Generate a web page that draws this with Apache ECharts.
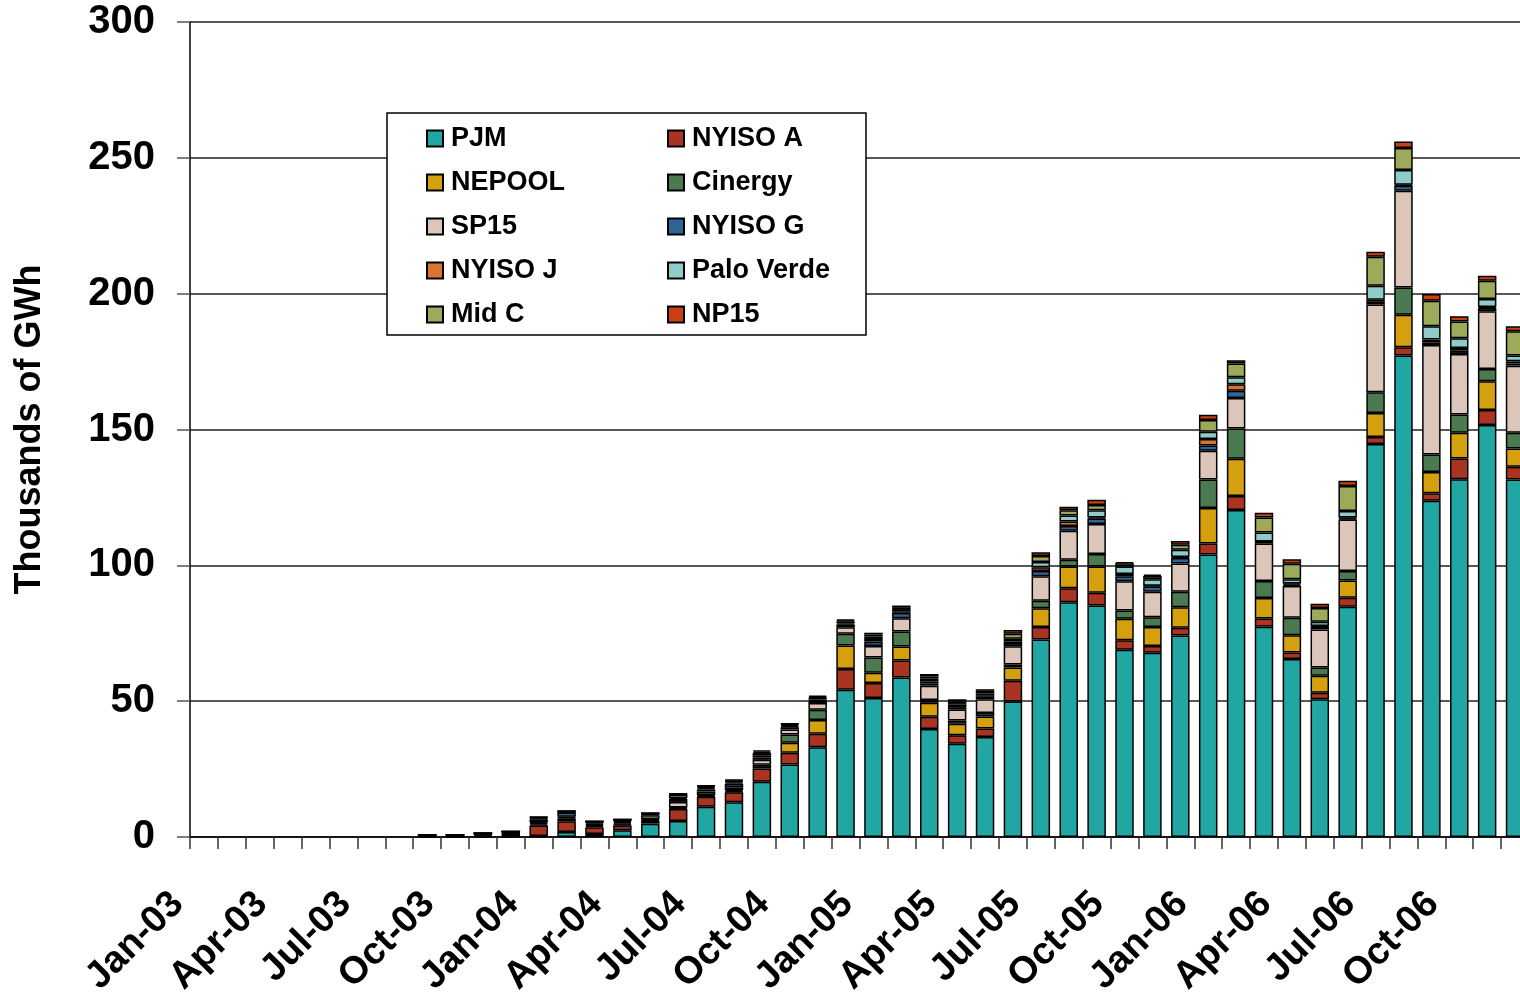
<!DOCTYPE html>
<html>
<head>
    <meta charset="utf-8">
    <title>ECharts</title>
    <script src="https://cdn.jsdelivr.net/npm/echarts@6/dist/echarts.min.js"></script>
</head>
<style>
    html, body {
        margin: 0;
        background: #fff;
    }
    #main {
        width: 1520px;
        height: 996px;
    }
</style>
<body>
    <div id="main"></div>
    <script type="text/javascript">
        var months = ['Jan-03','Feb-03','Mar-03','Apr-03','May-03','Jun-03','Jul-03','Aug-03','Sep-03','Oct-03','Nov-03','Dec-03',
                      'Jan-04','Feb-04','Mar-04','Apr-04','May-04','Jun-04','Jul-04','Aug-04','Sep-04','Oct-04','Nov-04','Dec-04',
                      'Jan-05','Feb-05','Mar-05','Apr-05','May-05','Jun-05','Jul-05','Aug-05','Sep-05','Oct-05','Nov-05','Dec-05',
                      'Jan-06','Feb-06','Mar-06','Apr-06','May-06','Jun-06','Jul-06','Aug-06','Sep-06','Oct-06','Nov-06','Dec-06'];

        // thousands of GWh per month, stacked bottom -> top
        var pjm      = [null,null,null,null,null,null,null,null, 0,0,0.1,0.1, 0.4,1.8,1.1,2.5,4.9,5.9,11.1,12.8,20.3,26.7,33.0,54.2, 51.2,58.7,39.8,34.3,36.8,49.9,72.7,86.4,85.2,68.9,67.8,74.2, 104.0,120.4,77.4,65.5,50.7,84.8,144.7,177.2,123.8,131.7,151.7,131.6];
        var nyisoA   = [null,null,null,null,null,null,null,null, 0.3,0.3,0.5,1.1, 3.8,4.0,2.5,1.7,1.1,4.4,3.7,3.7,4.9,4.3,5.0,7.6, 5.5,6.3,4.5,3.2,3.1,7.6,4.6,5.2,4.7,3.5,2.5,2.8, 4.0,5.1,3.0,2.4,2.4,3.3,2.5,3.1,2.7,7.6,5.5,4.7];
        var nepool   = [null,null,null,null,null,null,null,null, 0.1,0.1,0.2,0.2, 0.5,1.0,0.5,0.4,0.3,0.3,0.3,0.4,0.6,3.7,5.1,8.7, 3.8,5.1,5.1,4.2,4.5,4.9,6.9,8.0,9.7,7.9,7.0,7.6, 13.1,13.7,7.6,6.4,6.3,6.3,8.9,11.9,7.9,9.5,10.6,6.7];
        var cinergy  = [null,null,null,null,null,null,null,null, 0.1,0.1,0.2,0.2, 0.4,0.3,0.4,0.4,0.3,0.3,0.4,0.4,0.8,3.0,3.7,4.3, 5.6,5.5,1.0,1.2,1.2,1.1,2.8,2.5,4.6,3.1,3.6,5.7, 10.5,11.2,6.2,6.4,3.0,3.5,7.6,10.1,6.4,6.7,4.5,5.8];
        var sp15     = [null,null,null,null,null,null,null,null, 0.1,0.1,0.1,0.1, 0.4,0.4,0.4,0.5,1.4,2.0,1.2,1.0,1.8,1.9,2.5,2.4, 4.2,4.9,5.3,4.0,5.1,6.7,9.0,10.6,11.0,10.7,9.4,10.4, 10.6,11.2,13.8,11.7,14.0,19.0,32.3,35.6,40.3,22.3,21.2,24.7];
        var nyisoG   = [null,null,null,null,null,null,null,null, 0.1,0.1,0.2,0.2, 0.9,1.5,0.5,0.5,0.4,1.1,0.8,1.3,0.9,0.8,0.8,1.0, 1.6,2.0,0.8,0.9,0.9,1.2,1.9,1.8,2.0,1.9,1.9,2.0, 1.9,2.7,0.6,0.5,1.0,0.4,1.0,1.8,1.0,1.2,1.2,0.8];
        var nyisoJ   = [null,null,null,null,null,null,null,null, 0.1,0.1,0.1,0.1, 0.4,0.2,0.2,0.2,0.2,0.4,0.5,0.5,0.8,0.4,0.5,0.5, 1.0,0.6,0.8,0.9,0.6,0.6,1.4,1.6,0.4,0.8,0.3,0.4, 2.4,2.4,0.2,0.4,0.3,0.3,0.8,0.4,1.0,1.0,0.4,0.8];
        var paloVerde= [null,null,null,null,null,null,null,null, 0,0,0,0, 0.3,0.2,0.1,0.2,0.1,1.2,0.5,0.4,0.8,0.5,0.6,0.6, 0.9,0.8,1.0,0.6,0.6,1.0,1.9,2.2,2.7,2.8,2.4,2.6, 2.7,2.5,3.3,1.6,1.5,2.4,5.1,5.4,4.9,3.6,2.9,2.1];
        var midC     = [null,null,null,null,null,null,null,null, 0,0,0,0, 0.2,0.1,0.05,0.05,0.05,0.2,0.2,0.3,0.5,0.3,0.4,0.4, 0.7,0.7,0.8,0.7,1.0,1.8,2.2,2.0,1.9,1.2,1.2,1.9, 4.3,5.1,5.5,5.7,5.1,9.2,10.7,8.1,9.4,6.2,6.8,9.0];
        var np15     = [null,null,null,null,null,null,null,null, 0,0,0,0, 0.2,0.1,0.05,0.05,0.05,0.2,0.3,0.3,0.5,0.2,0.4,0.4, 0.7,0.6,0.9,0.7,0.6,1.4,1.4,1.3,1.9,0.3,0.5,1.4, 1.9,1.2,1.8,1.6,1.6,1.9,1.8,2.4,2.5,1.9,1.8,1.8];

        var names  = ['PJM','NYISO A','NEPOOL','Cinergy','SP15','NYISO G','NYISO J','Palo Verde','Mid C','NP15'];
        var values = [pjm, nyisoA, nepool, cinergy, sp15, nyisoG, nyisoJ, paloVerde, midC, np15];
        var colors = ['#22A6A3','#A83421','#D4A00E','#4B7A51','#DCC5B9','#2E6596','#DA7434','#8FCBC9','#9CAA5A','#CC3F14'];

        var FONT = 'Arial, "Liberation Sans", sans-serif';

        var series = [];
        for (var i = 0; i < names.length; i++) {
            series.push({
                name: names[i],
                type: 'bar',
                stack: 'total',
                barWidth: 18.5,
                data: values[i],
                itemStyle: {
                    color: colors[i],
                    borderColor: '#000',
                    borderWidth: 1.5
                }
            });
        }

        function legendCol(items, left) {
            return {
                orient: 'vertical',
                left: left,
                top: 125,
                padding: 0,
                itemWidth: 16,
                itemHeight: 16,
                itemGap: 17,
                icon: 'rect',
                data: items,
                textStyle: {
                    fontFamily: FONT,
                    fontWeight: 'bold',
                    fontSize: 27,
                    color: '#000',
                    padding: [0, 0, 0, 3]
                }
            };
        }

        var option = {
            animation: false,
            backgroundColor: '#fff',
            color: colors,
            grid: {
                left: 190,
                top: 22,
                right: -9,
                bottom: 159,
                containLabel: false,
                outerBoundsMode: 'none'
            },
            graphic: [{
                type: 'rect',
                z: 3,
                shape: { x: 387, y: 113, width: 479, height: 222 },
                style: { fill: '#fff', stroke: '#000', lineWidth: 1.5 }
            }],
            legend: [
                legendCol(['PJM','NEPOOL','SP15','NYISO J','Mid C'], 426),
                legendCol(['NYISO A','Cinergy','NYISO G','Palo Verde','NP15'], 667)
            ],
            xAxis: {
                type: 'category',
                data: months,
                axisLine: { lineStyle: { color: '#000', width: 1.5 } },
                axisTick: { show: true, interval: 0, length: 12, lineStyle: { color: '#333', width: 1.5 } },
                axisLabel: {
                    interval: 2,
                    rotate: 45,
                    margin: 35,
                    padding: [0, 37, 0, 0],
                    fontFamily: FONT,
                    fontWeight: 'bold',
                    fontSize: 38,
                    color: '#000'
                }
            },
            yAxis: {
                type: 'value',
                min: 0,
                max: 300,
                interval: 50,
                name: 'Thousands of GWh',
                nameLocation: 'middle',
                nameGap: 142,
                nameTextStyle: {
                    fontFamily: FONT,
                    fontWeight: 'bold',
                    fontSize: 36,
                    color: '#000'
                },
                axisLine: { show: true, lineStyle: { color: '#000', width: 1.5 } },
                axisTick: { show: true, length: 13, lineStyle: { color: '#555', width: 1.5 } },
                splitLine: { lineStyle: { color: '#222', width: 1.5 } },
                axisLabel: {
                    margin: 35,
                    fontFamily: FONT,
                    fontWeight: 'bold',
                    fontSize: 40,
                    color: '#000'
                }
            },
            series: series
        };

        var myChart = echarts.init(document.getElementById('main'));
        myChart.setOption(option);
    </script>
</body>
</html>
